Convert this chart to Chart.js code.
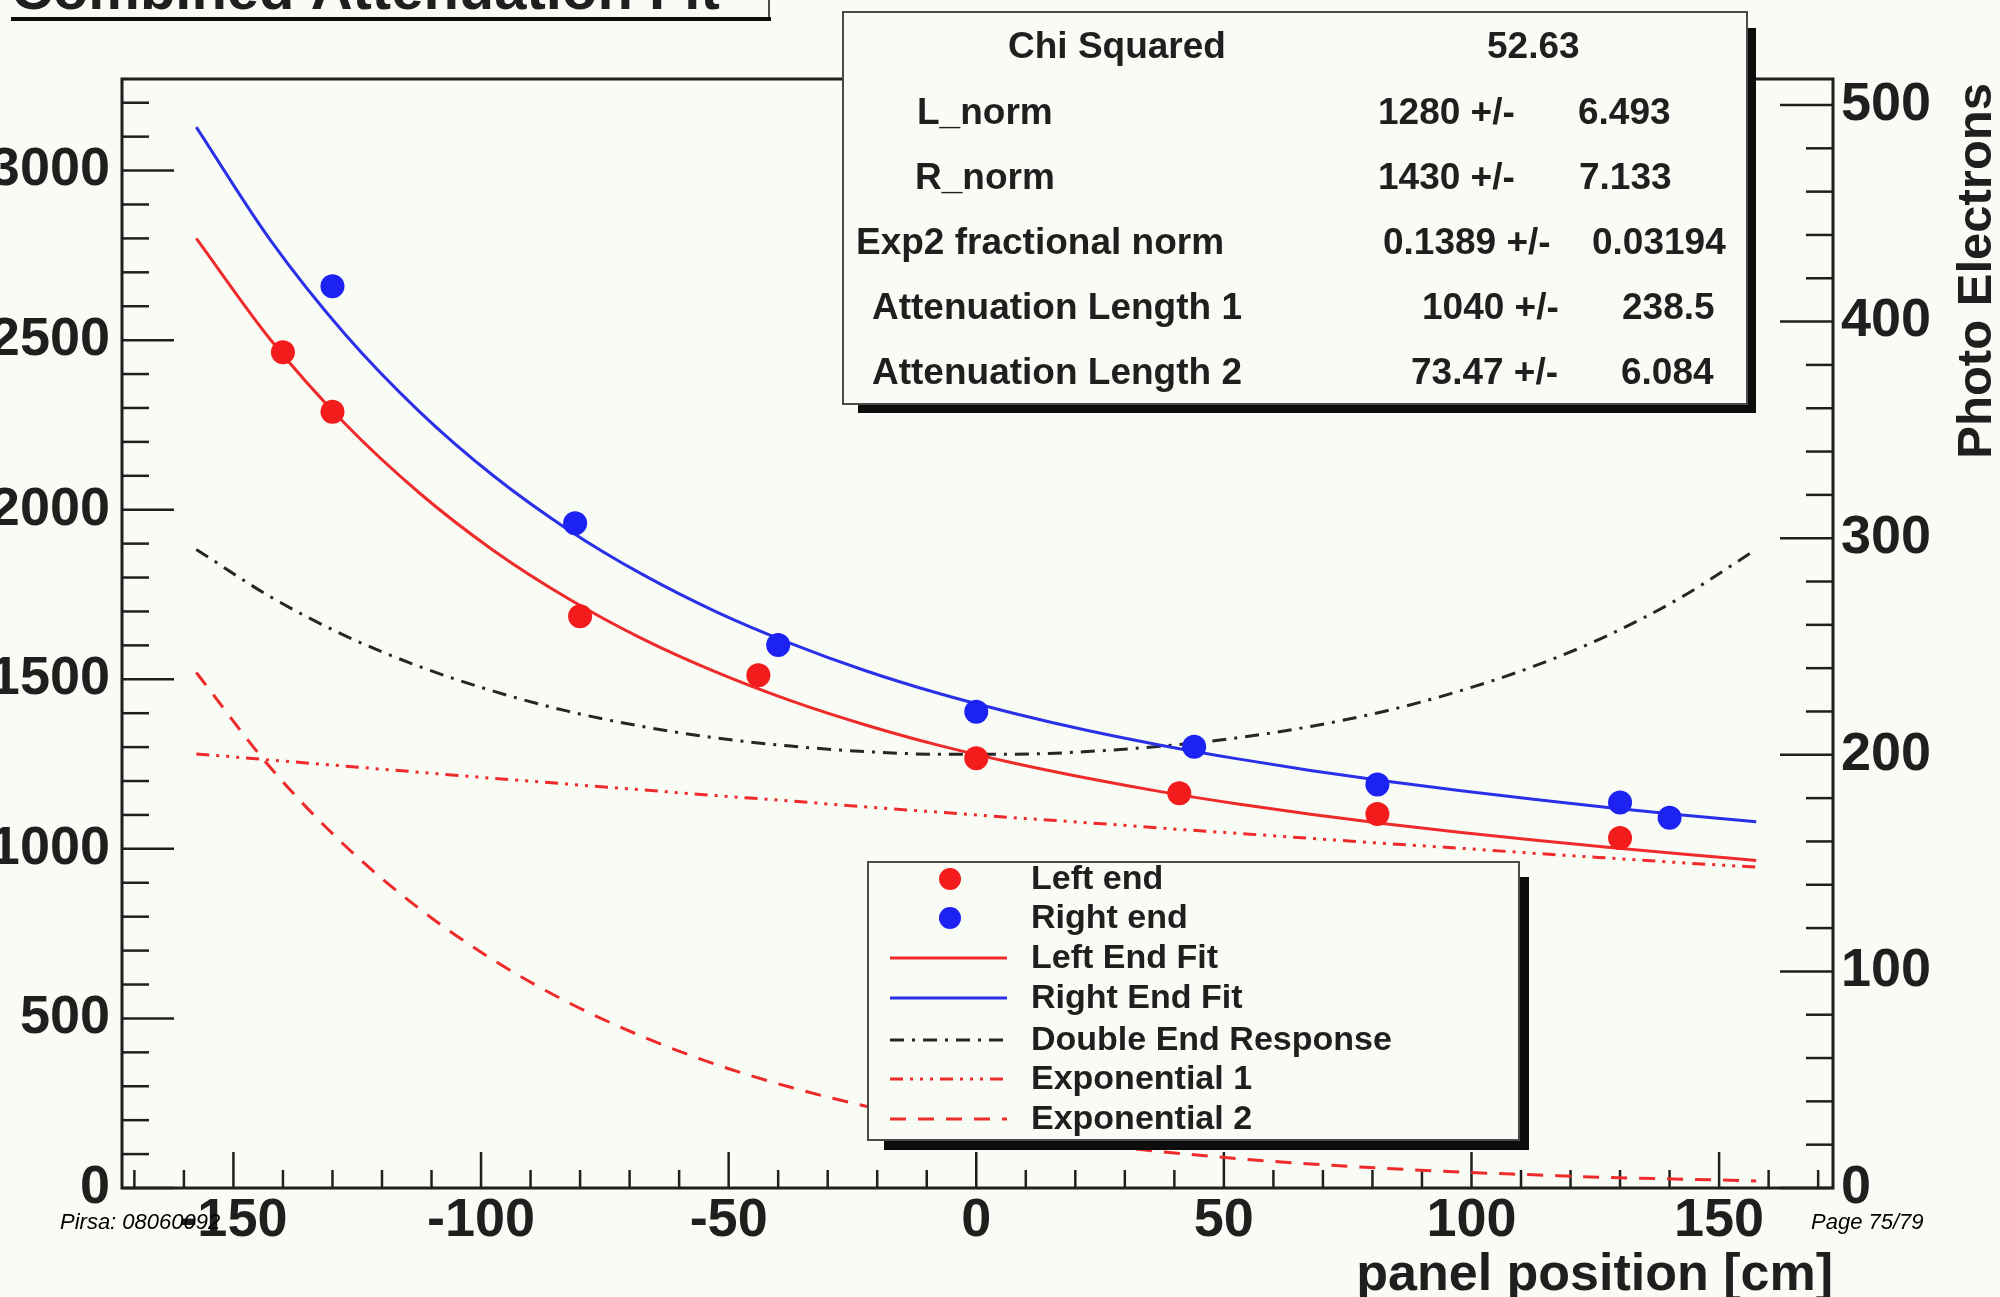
<!DOCTYPE html>
<html>
<head>
<meta charset="utf-8">
<title>Combined Attenuation Fit</title>
<script src="https://cdn.jsdelivr.net/npm/chart.js@4.4.1/dist/chart.umd.min.js"></script>
<style>
  html, body { margin: 0; padding: 0; background: #f9fbf5; overflow: hidden; }
  canvas { display: block; }
</style>
</head>
<body>
<canvas id="c" width="2000" height="1297"></canvas>
<script>
// ---- measured light yield at each end ----
const leftEndX  = [-140, -130, -80, -44, 0, 41, 81, 130];
const leftEndY  = [2464, 2289, 1686, 1512, 1267, 1164, 1103, 1032];
const rightEndX = [-130, -81, -40, 0, 44, 81, 130, 140];
const rightEndY = [2659, 1960, 1601, 1404, 1301, 1190, 1137, 1092];

// ---- fitted curves, sampled along the panel ----
const curveX    = [-157.5, -142.5, -127.5, -112.5, -97.5, -82.5, -67.5, -52.5, -37.5, -22.5, -7.5,
                   7.5, 22.5, 37.5, 52.5, 67.5, 82.5, 97.5, 112.5, 127.5, 142.5, 157.5];
const leftFit   = [2800, 2501, 2254, 2050, 1880, 1739, 1620, 1521, 1437, 1366, 1305,
                   1253, 1208, 1168, 1133, 1102, 1074, 1049, 1026, 1005, 985, 966];
const rightFit  = [3128, 2794, 2518, 2290, 2100, 1942, 1810, 1699, 1606, 1526, 1458,
                   1400, 1349, 1305, 1266, 1231, 1200, 1172, 1146, 1122, 1100, 1080];
const doubleEnd = [1883, 1743, 1629, 1538, 1465, 1406, 1361, 1327, 1303, 1287, 1279,
                   1279, 1287, 1303, 1327, 1361, 1406, 1465, 1538, 1629, 1743, 1883];
const expOne    = [1280, 1262, 1244, 1226, 1208, 1191, 1174, 1157, 1141, 1124, 1108,
                   1092, 1077, 1061, 1046, 1031, 1016, 1002, 987, 973, 959, 946];
const expTwo    = [1520, 1239, 1010, 824, 672, 548, 447, 364, 297, 242, 197,
                   161, 131, 107, 87, 71, 58, 47, 39, 31, 26, 21];

// ---- axis tick labels ----
const xTickValues  = [-150, -100, -50, 0, 50, 100, 150];
const yTickValues  = [0, 500, 1000, 1500, 2000, 2500, 3000];
const y2TickValues = [0, 100, 200, 300, 400, 500];

// ---- fit results table ----
const statNames  = ['Chi Squared', 'L_norm', 'R_norm', 'Exp2 fractional norm',
                    'Attenuation Length 1', 'Attenuation Length 2'];
const statValues = ['52.63', '1280 +/-', '1430 +/-', '0.1389 +/-', '1040 +/-', '73.47 +/-'];
const statErrors = ['', '6.493', '7.133', '0.03194', '238.5', '6.084'];

const titleText = 'Combined Attenuation Fit';
const xTitle = 'panel position [cm]';
const y2Title = 'Photo Electrons';
const footLeft = 'Pirsa: 08060092';
const footRight = 'Page 75/79';

// ---- styling ----
const FONT = '"Liberation Sans", Arial, Helvetica, sans-serif';
const INK = '#1f1f1f';
const BG = '#f9fbf5';
const RED = '#f21c1c';
const BLUE = '#1c22f2';

const pts = (xs, ys) => xs.map((x, i) => ({ x: x, y: ys[i] }));

// table text placement (left x of each column, row centre y)
const statRowY   = [45, 111, 176, 241, 306, 371];
const statNameX  = [1008, 917, 915, 856, 872, 872];
const statValX   = [1487, 1378, 1378, 1383, 1422, 1411];
const statErrX   = [0, 1578, 1579, 1592, 1622, 1621];

function line(ctx, x1, y1, x2, y2) {
  ctx.beginPath(); ctx.moveTo(x1, y1); ctx.lineTo(x2, y2); ctx.stroke();
}

function shadowBox(ctx, l, t, r, b, sh, shStartX, shStartY) {
  ctx.fillStyle = '#0d0d0d';
  ctx.fillRect(r, shStartY, sh, b + sh - shStartY);
  ctx.fillRect(shStartX, b, r + sh - shStartX, sh);
  ctx.fillStyle = BG;
  ctx.fillRect(l, t, r - l, b - t);
  ctx.strokeStyle = '#4a4a4a';
  ctx.lineWidth = 2;
  ctx.strokeRect(l, t, r - l, b - t);
}

const rootStyle = {
  id: 'rootStyle',
  beforeDraw(chart) {
    const ctx = chart.ctx;
    ctx.save();
    ctx.fillStyle = BG;
    ctx.fillRect(0, 0, chart.width, chart.height);
    ctx.restore();
  },
  beforeDatasetsDraw(chart) {
    const { ctx, chartArea: a, scales } = chart;
    ctx.save();
    ctx.strokeStyle = INK;
    ctx.lineWidth = 2.5;
    // inward ticks on the position axis
    for (let v = -170; v <= 170; v += 10) {
      const px = scales.x.getPixelForValue(v);
      line(ctx, px, a.bottom, px, a.bottom - (v % 50 === 0 ? 36 : 18));
    }
    // left axis
    for (let v = 0; v <= 3200; v += 100) {
      const py = scales.y.getPixelForValue(v);
      line(ctx, a.left, py, a.left + (v % 500 === 0 ? 52 : 27), py);
    }
    // right axis
    for (let v = 0; v <= 500; v += 20) {
      const py = scales.y2.getPixelForValue(v);
      line(ctx, a.right, py, a.right - (v % 100 === 0 ? 53 : 27), py);
    }
    ctx.lineWidth = 3;
    ctx.strokeRect(a.left, a.top, a.right - a.left, a.bottom - a.top);
    ctx.restore();
  },
  afterDraw(chart) {
    const ctx = chart.ctx;
    const a = chart.chartArea;
    ctx.save();

    // axis titles
    ctx.fillStyle = INK;
    ctx.font = 'bold 52px ' + FONT;
    ctx.textAlign = 'right';
    ctx.textBaseline = 'alphabetic';
    ctx.fillText(xTitle, a.right, 1290);
    ctx.save();
    ctx.translate(1991, 83);
    ctx.rotate(-Math.PI / 2);
    ctx.font = 'bold 49px ' + FONT;
    ctx.textAlign = 'right';
    ctx.fillText(y2Title, 0, 0);
    ctx.restore();

    // title box (runs off the top edge)
    ctx.fillStyle = BG;
    ctx.fillRect(0, 0, 769, 17);
    ctx.strokeStyle = '#4a4a4a';
    ctx.lineWidth = 2;
    line(ctx, 769, 0, 769, 18);
    ctx.fillStyle = '#0d0d0d';
    ctx.fillRect(11, 17, 760, 4);
    ctx.fillStyle = INK;
    ctx.font = 'bold 58px ' + FONT;
    ctx.textAlign = 'left';
    ctx.fillText(titleText, 11, 9);

    // fit results table
    shadowBox(ctx, 843, 12, 1747, 404, 9, 858, 28);
    ctx.fillStyle = INK;
    ctx.font = 'bold 37px ' + FONT;
    ctx.textAlign = 'left';
    ctx.textBaseline = 'alphabetic';
    statNames.forEach((name, i) => {
      const base = statRowY[i] + 13;
      ctx.fillText(name, statNameX[i], base);
      ctx.fillText(statValues[i], statValX[i], base);
      if (statErrors[i]) ctx.fillText(statErrors[i], statErrX[i], base);
    });

    // legend
    shadowBox(ctx, 868, 862, 1519, 1140, 10, 884, 877);
    const rowY = [879, 918, 958, 998, 1040, 1079, 1119];
    chart.data.datasets.forEach((ds, i) => {
      const y = rowY[i];
      if (ds.showLine === false) {
        ctx.fillStyle = ds.backgroundColor;
        ctx.beginPath();
        ctx.arc(950, y, 11, 0, Math.PI * 2);
        ctx.fill();
      } else {
        ctx.strokeStyle = ds.borderColor;
        ctx.lineWidth = ds.borderWidth;
        ctx.setLineDash(ds.borderDash || []);
        line(ctx, 890, y, 1007, y);
        ctx.setLineDash([]);
      }
      ctx.fillStyle = INK;
      ctx.font = 'bold 34px ' + FONT;
      ctx.textAlign = 'left';
      ctx.textBaseline = 'middle';
      ctx.fillText(ds.label, 1031, y + 1);
    });

    // page footer
    ctx.fillStyle = '#000';
    ctx.font = 'italic 22px ' + FONT;
    ctx.textBaseline = 'alphabetic';
    ctx.textAlign = 'left';
    ctx.fillText(footLeft, 60, 1229);
    ctx.fillText(footRight, 1811, 1229);
    ctx.restore();
  }
};

const tickFont = { family: FONT, size: 54, weight: 'bold' };
const fixedTicks = values => scale => { scale.ticks = values.map(v => ({ value: v })); };
const plainLabel = v => String(v);

new Chart(document.getElementById('c'), {
  type: 'line',
  data: {
    datasets: [
      { label: 'Left end', data: pts(leftEndX, leftEndY), showLine: false,
        backgroundColor: RED, borderColor: RED, pointRadius: 12, pointBorderWidth: 0 },
      { label: 'Right end', data: pts(rightEndX, rightEndY), showLine: false,
        backgroundColor: BLUE, borderColor: BLUE, pointRadius: 12, pointBorderWidth: 0 },
      { label: 'Left End Fit', data: pts(curveX, leftFit), borderColor: '#ee2a2a',
        borderWidth: 3, pointRadius: 0, cubicInterpolationMode: 'monotone', fill: false },
      { label: 'Right End Fit', data: pts(curveX, rightFit), borderColor: '#2a30e8',
        borderWidth: 3, pointRadius: 0, cubicInterpolationMode: 'monotone', fill: false },
      { label: 'Double End Response', data: pts(curveX, doubleEnd), borderColor: '#262626',
        borderWidth: 3, borderDash: [14, 8, 3, 8], pointRadius: 0, cubicInterpolationMode: 'monotone', fill: false },
      { label: 'Exponential 1', data: pts(curveX, expOne), borderColor: '#ee2a2a',
        borderWidth: 3, borderDash: [13, 7, 3, 7, 3, 7, 3, 7], pointRadius: 0, cubicInterpolationMode: 'monotone', fill: false },
      { label: 'Exponential 2', data: pts(curveX, expTwo), borderColor: '#ee2a2a',
        borderWidth: 3, borderDash: [16, 12], pointRadius: 0, cubicInterpolationMode: 'monotone', fill: false }
    ]
  },
  options: {
    responsive: false,
    animation: false,
    devicePixelRatio: 1,
    events: [],
    layout: { padding: { left: 0, right: 0, top: 79, bottom: 0 } },
    plugins: { legend: { display: false }, tooltip: { enabled: false }, title: { display: false } },
    scales: {
      x: {
        type: 'linear', position: 'bottom', min: -172.5, max: 173,
        grid: { display: false, drawTicks: false }, border: { display: false },
        ticks: { font: tickFont, color: INK, padding: 1, maxRotation: 0, autoSkip: false,
                 includeBounds: false, callback: plainLabel },
        afterBuildTicks: fixedTicks(xTickValues),
        afterFit: s => { s.height = 109; }
      },
      y: {
        type: 'linear', position: 'left', min: 0, max: 3270,
        grid: { display: false, drawTicks: false }, border: { display: false },
        ticks: { font: tickFont, color: INK, padding: 12, autoSkip: false,
                 includeBounds: false, callback: plainLabel },
        afterBuildTicks: fixedTicks(yTickValues),
        afterFit: s => { s.width = 122; }
      },
      y2: {
        type: 'linear', position: 'right', min: 0, max: 512,
        grid: { display: false, drawTicks: false }, border: { display: false },
        ticks: { font: tickFont, color: INK, padding: 8, autoSkip: false,
                 includeBounds: false, callback: plainLabel },
        afterBuildTicks: fixedTicks(y2TickValues),
        afterFit: s => { s.width = 167; }
      }
    }
  },
  plugins: [rootStyle]
});
</script>
</body>
</html>
